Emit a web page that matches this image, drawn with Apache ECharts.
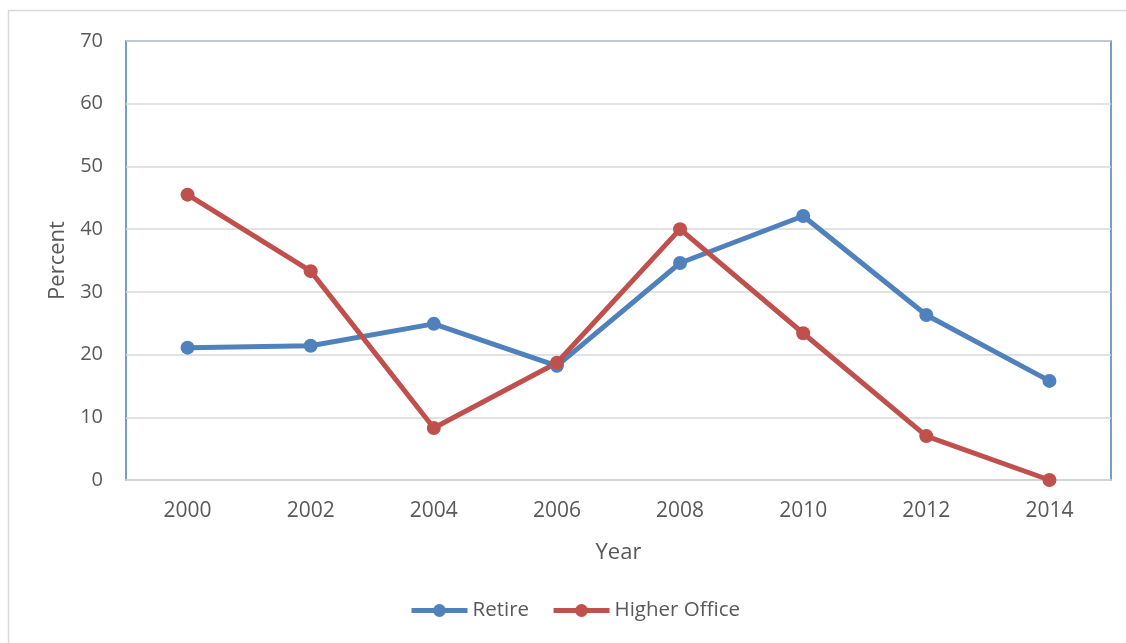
<!DOCTYPE html>
<html><head><meta charset="utf-8">
<script src="https://cdn.jsdelivr.net/npm/echarts@6/dist/echarts.min.js"></script>
<style>html,body{margin:0;padding:0;background:#fff}#c{width:1126px;height:643px}</style>
</head><body><div id="c"></div>
<script>
const years = ['2000','2002','2004','2006','2008','2010','2012','2014'];
const retire = [21.1, 21.4, 24.9, 18.2, 34.6, 42.1, 26.3, 15.8];
const higherOffice = [45.5, 33.3, 8.3, 18.7, 40.0, 23.4, 7.0, 0];
const yTicks = [0, 10, 20, 30, 40, 50, 60, 70];

const chart = echarts.init(document.getElementById('c'));
const font = 'Open Sans, Noto Sans, sans-serif';
chart.setOption({
  animation: false,
  textStyle: {fontFamily: font},
  graphic: [{type:'rect', shape:{x:8.5, y:10.5, width:1130, height:650}, style:{fill:'none', stroke:'#d9d9d9', lineWidth:1.5}, silent:true, z:-10}],
  grid: {left:126, right:15, top:41, bottom:163, show:true, borderColor:'#4a7ebb', borderWidth:1.5, backgroundColor:'transparent'},
  legend: {
    bottom: 17, left: 404, itemWidth: 56, itemHeight: 16, itemGap: 22,
    lineStyle: {width: 5},
    textStyle: {fontSize: 20.5, color:'#595959', fontFamily: font},
    data: ['Retire','Higher Office']
  },
  xAxis: {
    type:'category', data: years, boundaryGap:true,
    name:'Year', nameLocation:'middle', nameGap:62,
    nameTextStyle:{fontSize:22, color:'#595959'},
    axisLine:{lineStyle:{color:'#d9d9d9', width:1.5}},
    axisTick:{show:false},
    axisLabel:{fontSize:21, color:'#595959', margin:21}
  },
  yAxis: {
    type:'value', min:yTicks[0], max:yTicks[yTicks.length-1], interval:10,
    name:'Percent', nameLocation:'middle', nameGap:57,
    nameTextStyle:{fontSize:22, color:'#595959'},
    axisLine:{show:false}, axisTick:{show:false},
    axisLabel:{fontSize:20, color:'#595959', margin:23},
    splitLine:{lineStyle:{color:'#d9d9d9', width:1.5}}
  },
  series: [
    {name:'Retire', type:'line', data: retire, color:'#4f81bd', symbol:'circle', symbolSize:14,
     lineStyle:{width:5}, itemStyle:{color:'#4f81bd'}},
    {name:'Higher Office', type:'line', data: higherOffice, color:'#c0504d', symbol:'circle', symbolSize:14,
     lineStyle:{width:5}, itemStyle:{color:'#c0504d'}}
  ]
});
</script></body></html>
